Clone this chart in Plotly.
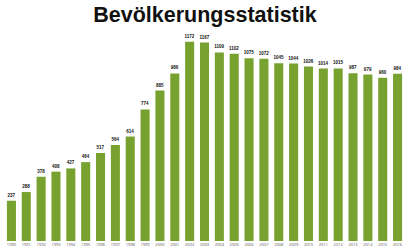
import plotly.graph_objects as go

years = [str(y) for y in range(1990, 2017)]
population = [237, 288, 378, 408, 427, 464, 517, 564, 614, 774, 885, 986, 1172, 1167,
              1109, 1102, 1075, 1072, 1045, 1044, 1026, 1014, 1015, 987, 979, 960, 984]
title_text = "Bevölkerungsstatistik"

fig = go.Figure(go.Bar(
    x=years, y=population,
    marker=dict(color="#78A22F", line=dict(width=0)),
    text=[str(v) for v in population],
    texttemplate="<b>%{text}</b>",
    textposition="outside",
    constraintext="none",
    textfont=dict(size=4.5, color="#111111", family="Liberation Sans, Arial"),
    cliponaxis=False,
))

fig.update_layout(
    width=410, height=246,
    margin=dict(l=4, r=5, t=3, b=5),
    paper_bgcolor="white", plot_bgcolor="white",
    bargap=0.39,
    showlegend=False,
    title=dict(text="<b>" + title_text + "</b>", x=0.5, xanchor="center",
               y=1 - 14 / 246, yanchor="middle", yref="container",
               font=dict(size=21.5, color="#111111",
                         family="Liberation Sans, Arial")),
    xaxis=dict(type="category", showgrid=False, zeroline=False, showline=False,
               automargin=False,
               ticks="", tickfont=dict(size=4, color="#555555"), ticklabelstandoff=0),
    yaxis=dict(range=[0, 1400], visible=False, showgrid=False, zeroline=False,
               automargin=False),
)

fig.write_html("out.html")
